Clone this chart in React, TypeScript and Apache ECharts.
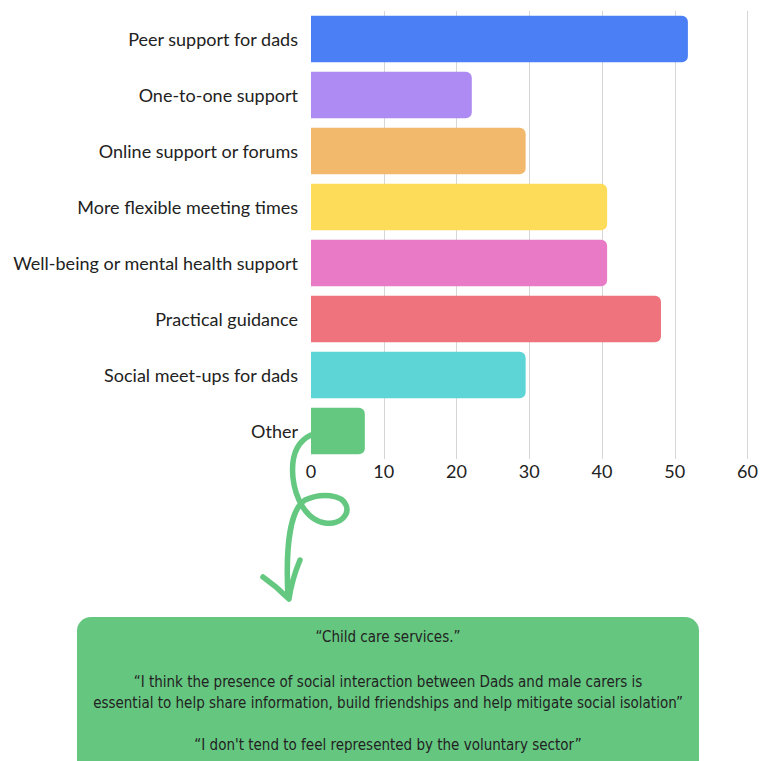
import React, { useEffect, useRef } from "react";
import * as echarts from "echarts";

const categories = [
  "Peer support for dads",
  "One-to-one support",
  "Online support or forums",
  "More flexible meeting times",
  "Well-being or mental health support",
  "Practical guidance",
  "Social meet-ups for dads",
  "Other",
];
const values = [51.8, 22.1, 29.5, 40.7, 40.7, 48.1, 29.5, 7.4];
const barColors = [
  "#4A7FF5",
  "#AD8BF3",
  "#F2B86B",
  "#FDDC5A",
  "#E87AC6",
  "#EE737C",
  "#5DD5D6",
  "#64C880",
];
const xTicks = { min: 0, max: 60, interval: 10 };
const quoteLines = [
  "“Child care services.”",
  "“I think the presence of social interaction between Dads and male carers is",
  "essential to help share information, build friendships and help mitigate social isolation”",
  "“I don't tend to feel represented by the voluntary sector”",
];

const ARROW_PATH =
  "M 311 435 C 296 442, 291 458, 293 478 C 295 496, 305 520, 325 523 C 340 525, 350 515, 346 505 C 342 495, 322 492, 305 500 C 292 508, 285 540, 288 597";
const ARROW_HEAD = "M 263 577 C 273 584, 282 592, 289 599 C 291 585, 295 572, 300 560";

let registered = false;
function registerShapes() {
  if (registered) return;
  echarts.graphic.registerShape("arrowCurl", echarts.graphic.extendPath(ARROW_PATH, {}));
  echarts.graphic.registerShape("arrowHead", echarts.graphic.extendPath(ARROW_HEAD, {}));
  registered = true;
}

export default function App() {
  const ref = useRef<HTMLDivElement>(null);
  useEffect(() => {
    if (!ref.current) return;
    registerShapes();
    const chart = echarts.init(ref.current, undefined, { renderer: "svg" });
    const green = "#64C880";
    const quoteYs = [637, 682, 703, 745];
    chart.setOption({
      animation: false,
      backgroundColor: "#ffffff",
      grid: { left: 311, right: 7, top: 11, bottom: 302, containLabel: false },
      xAxis: {
        type: "value",
        min: xTicks.min,
        max: xTicks.max,
        interval: xTicks.interval,
        axisLine: { show: false },
        axisTick: { show: false },
        axisLabel: {
          color: "#222",
          fontSize: 18,
          fontFamily: "Lato",
          margin: 3,
        },
        splitLine: {
          show: true,
          lineStyle: {
            color: ["rgba(0,0,0,0)", "#d6d6d6", "#d6d6d6", "#d6d6d6", "#d6d6d6", "#d6d6d6", "#d6d6d6"],
            width: 1,
          },
        },
      },
      yAxis: {
        type: "category",
        inverse: true,
        data: categories,
        axisLine: { show: false },
        axisTick: { show: false },
        axisLabel: {
          color: "#222",
          fontSize: 18,
          fontFamily: "Lato",
          margin: 13,
        },
      },
      series: [
        {
          type: "bar",
          data: values.map((v, i) => ({ value: v, itemStyle: { color: barColors[i] } })),
          barCategoryGap: "17%",
          itemStyle: { borderRadius: [0, 6, 6, 0] },
        },
      ],
      graphic: [
        {
          type: "arrowCurl",
          x: 0,
          y: 0,
          z: 1,
          style: { fill: "none", stroke: green, lineWidth: 5.5, lineCap: "round", lineJoin: "round" },
        },
        {
          type: "arrowHead",
          x: 0,
          y: 0,
          z: 1,
          style: { fill: "none", stroke: green, lineWidth: 5.5, lineCap: "round", lineJoin: "round" },
        },
        {
          type: "rect",
          shape: { x: 77, y: 617, width: 622, height: 160, r: 14 },
          style: { fill: "#65C680" },
        },
        ...quoteLines.map((t, i) => ({
          type: "text",
          x: 388,
          y: quoteYs[i],
          style: {
            text: t,
            fill: "#222",
            fontSize: 15,
            fontFamily: "'Liberation Sans Narrow', 'DejaVu Sans Condensed', sans-serif",
            textAlign: "center",
            textVerticalAlign: "middle",
          },
        })),
      ],
    });
    return () => chart.dispose();
  }, []);
  return (
    <div
      ref={ref}
      style={{ position: "absolute", left: 0, top: 0, width: 761, height: 761 }}
    />
  );
}
